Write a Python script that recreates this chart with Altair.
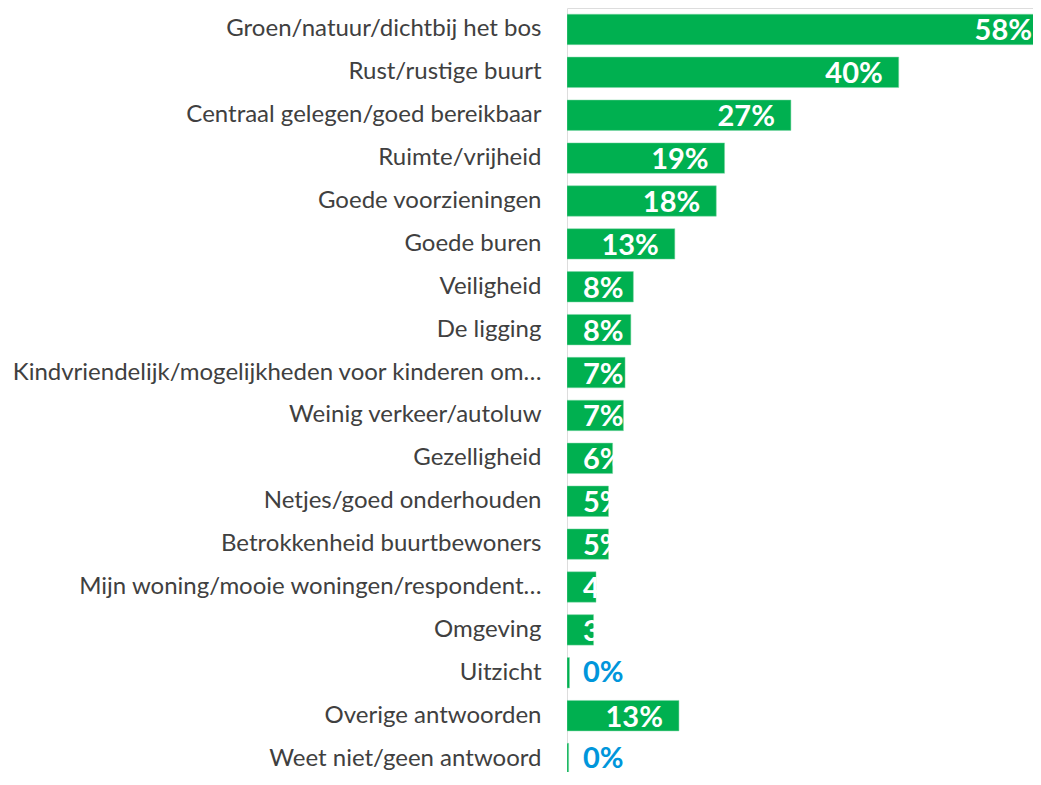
import altair as alt
import pandas as pd

categories = [
    "Groen/natuur/dichtbij het bos",
    "Rust/rustige buurt",
    "Centraal gelegen/goed bereikbaar",
    "Ruimte/vrijheid",
    "Goede voorzieningen",
    "Goede buren",
    "Veiligheid",
    "De ligging",
    "Kindvriendelijk/mogelijkheden voor kinderen om…",
    "Weinig verkeer/autoluw",
    "Gezelligheid",
    "Netjes/goed onderhouden",
    "Betrokkenheid buurtbewoners",
    "Mijn woning/mooie woningen/respondent…",
    "Omgeving",
    "Uitzicht",
    "Overige antwoorden",
    "Weet niet/geen antwoord",
]
values = [58, 40, 27, 19, 18, 13, 8, 7.7, 7, 6.8, 5.5, 5, 5, 3.5, 3.2, 0.3, 13.5, 0.2]
labels = ["58%", "40%", "27%", "19%", "18%", "13%", "8%", "8%", "7%", "7%", "6%",
          "5%", "5%", "4%", "3%", "0%", "13%", "0%"]

df = pd.DataFrame({"cat": categories, "val": values, "lab": labels})
df["kind"] = ["big" if v >= 10 else ("zero" if v < 1 else "small") for v in values]

FONT = "Lato"
GREEN = "#00B050"
BLUE = "#0096DB"

y = alt.Y("cat:N", sort=categories, title=None,
          scale=alt.Scale(paddingInner=0.29, paddingOuter=0.145, range=[0, 772]),
          axis=alt.Axis(domain=False, ticks=False, labelPadding=26,
                        labelFontSize=24, labelFont=FONT, labelColor="#404040",
                        labelLimit=600))
x = alt.X("val:Q", scale=alt.Scale(domain=[0, 58], nice=False, zero=True, range=[0, 481]),
          axis=None)

base = alt.Chart(df)

bars = base.mark_bar(color=GREEN, stroke="#7fd7a7", strokeWidth=0.5, clip=True).encode(x=x, y=y)

big = base.transform_filter(alt.datum.kind == "big").mark_text(
    align="right", baseline="middle", dx=-16, dy=2, font=FONT, fontWeight="bold",
    fontSize=29, color="white").encode(x=x, y=y, text="lab:N")

small = base.transform_filter(alt.datum.kind == "small").mark_text(
    align="left", baseline="middle", dx=16, dy=2, font=FONT, fontWeight="bold",
    fontSize=29, color="white").encode(x=alt.datum(0), y=y, text="lab:N")

zero = base.transform_filter(alt.datum.kind == "zero").mark_text(
    align="left", baseline="middle", dx=16, dy=0, font=FONT, fontWeight="bold",
    fontSize=29, color=BLUE).encode(x=alt.datum(0), y=y, text="lab:N")

chart = alt.layer(bars, big, small, zero).properties(
    width=466, height=764,
    autosize=alt.AutoSizeParams(type="none"),
    padding={"left": 559, "top": 0, "right": 0, "bottom": 0},
).configure_view(stroke=None).configure(background="white")

chart.save("out.html", embed_options={"renderer": "svg", "actions": False})
